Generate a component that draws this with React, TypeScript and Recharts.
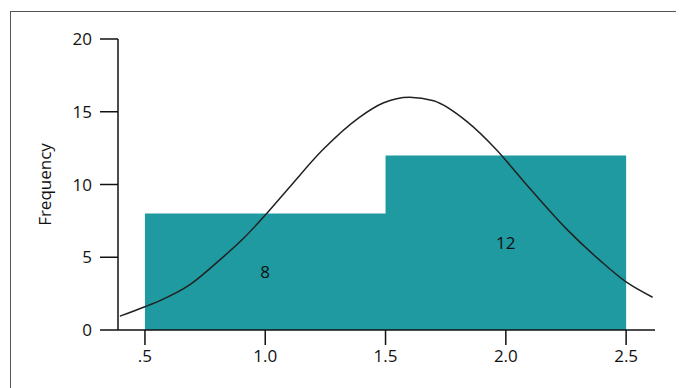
import {
  ComposedChart,
  Area,
  Line,
  Scatter,
  XAxis,
  YAxis,
} from "recharts";

// histogram bins: left edge -> frequency (stepAfter), last point closes the bin
const binEdges = [0.5, 1.5, 2.5];
const binCounts = [8, 12, 12];

// fitted curve
const curveX = [0.396, 0.5, 0.56, 0.69, 0.81, 0.91, 1.0, 1.1, 1.24, 1.39, 1.49, 1.6, 1.7, 1.84, 1.96, 2.07, 2.255, 2.39, 2.5, 2.61];
const curveY = [0.95, 1.6, 2.0, 3.15, 4.8, 6.3, 7.9, 9.8, 12.4, 14.6, 15.6, 16.0, 15.75, 14.3, 12.4, 10.3, 6.9, 4.8, 3.3, 2.25];

// count labels in the middle of each bar
const labelX = [1.0, 2.0];
const labelText = ["8", "12"];

const xTicks = [0.5, 1.0, 1.5, 2.0, 2.5];
const yTicks = [0, 5, 10, 15, 20];

const barData = binEdges.map((x, i) => ({ x, freq: binCounts[i] }));
const curveData = curveX.map((x, i) => ({ x, fit: curveY[i] }));
const labelData = labelX.map((x, i) => ({ x, mid: binCounts[i] / 2, label: labelText[i] }));

const font = "'Open Sans', sans-serif";

export default function App() {
  return (
    <div style={{ position: "relative", width: 676, height: 380, overflow: "hidden", fontFamily: font }}>
      <div
        style={{
          position: "absolute",
          left: 2,
          top: 3,
          width: 666,
          height: 420,
          border: "1px solid #555",
        }}
      />
      <div style={{ position: "absolute", left: 0, top: 0 }}>
        <ComposedChart width={676} height={380} margin={{ top: 31, right: 29, bottom: 0, left: 40 }}>
          <XAxis
            type="number"
            dataKey="x"
            domain={[0.388, 2.62]}
            ticks={xTicks}
            tickFormatter={(v: number) => (v === 0.5 ? ".5" : v.toFixed(1))}
            tickSize={15}
            tickMargin={5}
            height={58}
            allowDataOverflow
            stroke="#111"
            strokeWidth={1.5}
            tick={{ fill: "#111", fontSize: 17, fontFamily: font }}
          />
          <YAxis
            type="number"
            domain={[0, 20]}
            ticks={yTicks}
            tickSize={18}
            tickMargin={8}
            width={70}
            stroke="#111"
            strokeWidth={1.5}
            tick={{ fill: "#111", fontSize: 17, fontFamily: font }}
            label={{
              value: "Frequency",
              angle: -90,
              position: "insideLeft",
              offset: 0,
              dx: -3,
              style: { fill: "#111", fontSize: 17, fontFamily: font, textAnchor: "middle" },
            }}
          />
          <Area
            data={barData}
            dataKey="freq"
            type="stepAfter"
            fill="#1e9aa0"
            fillOpacity={1}
            stroke="none"
            isAnimationActive={false}
          />
          <Line
            data={curveData}
            dataKey="fit"
            type="monotone"
            stroke="#222"
            strokeWidth={1.5}
            dot={false}
            isAnimationActive={false}
          />
          <Scatter
            data={labelData}
            dataKey="mid"
            isAnimationActive={false}
            shape={(p: any) => (
              <text
                x={p.cx}
                y={p.cy}
                textAnchor="middle"
                dominantBaseline="central"
                fill="#111"
                fontSize={17}
                fontFamily={font}
              >
                {p.payload.label}
              </text>
            )}
          />
        </ComposedChart>
      </div>
    </div>
  );
}
